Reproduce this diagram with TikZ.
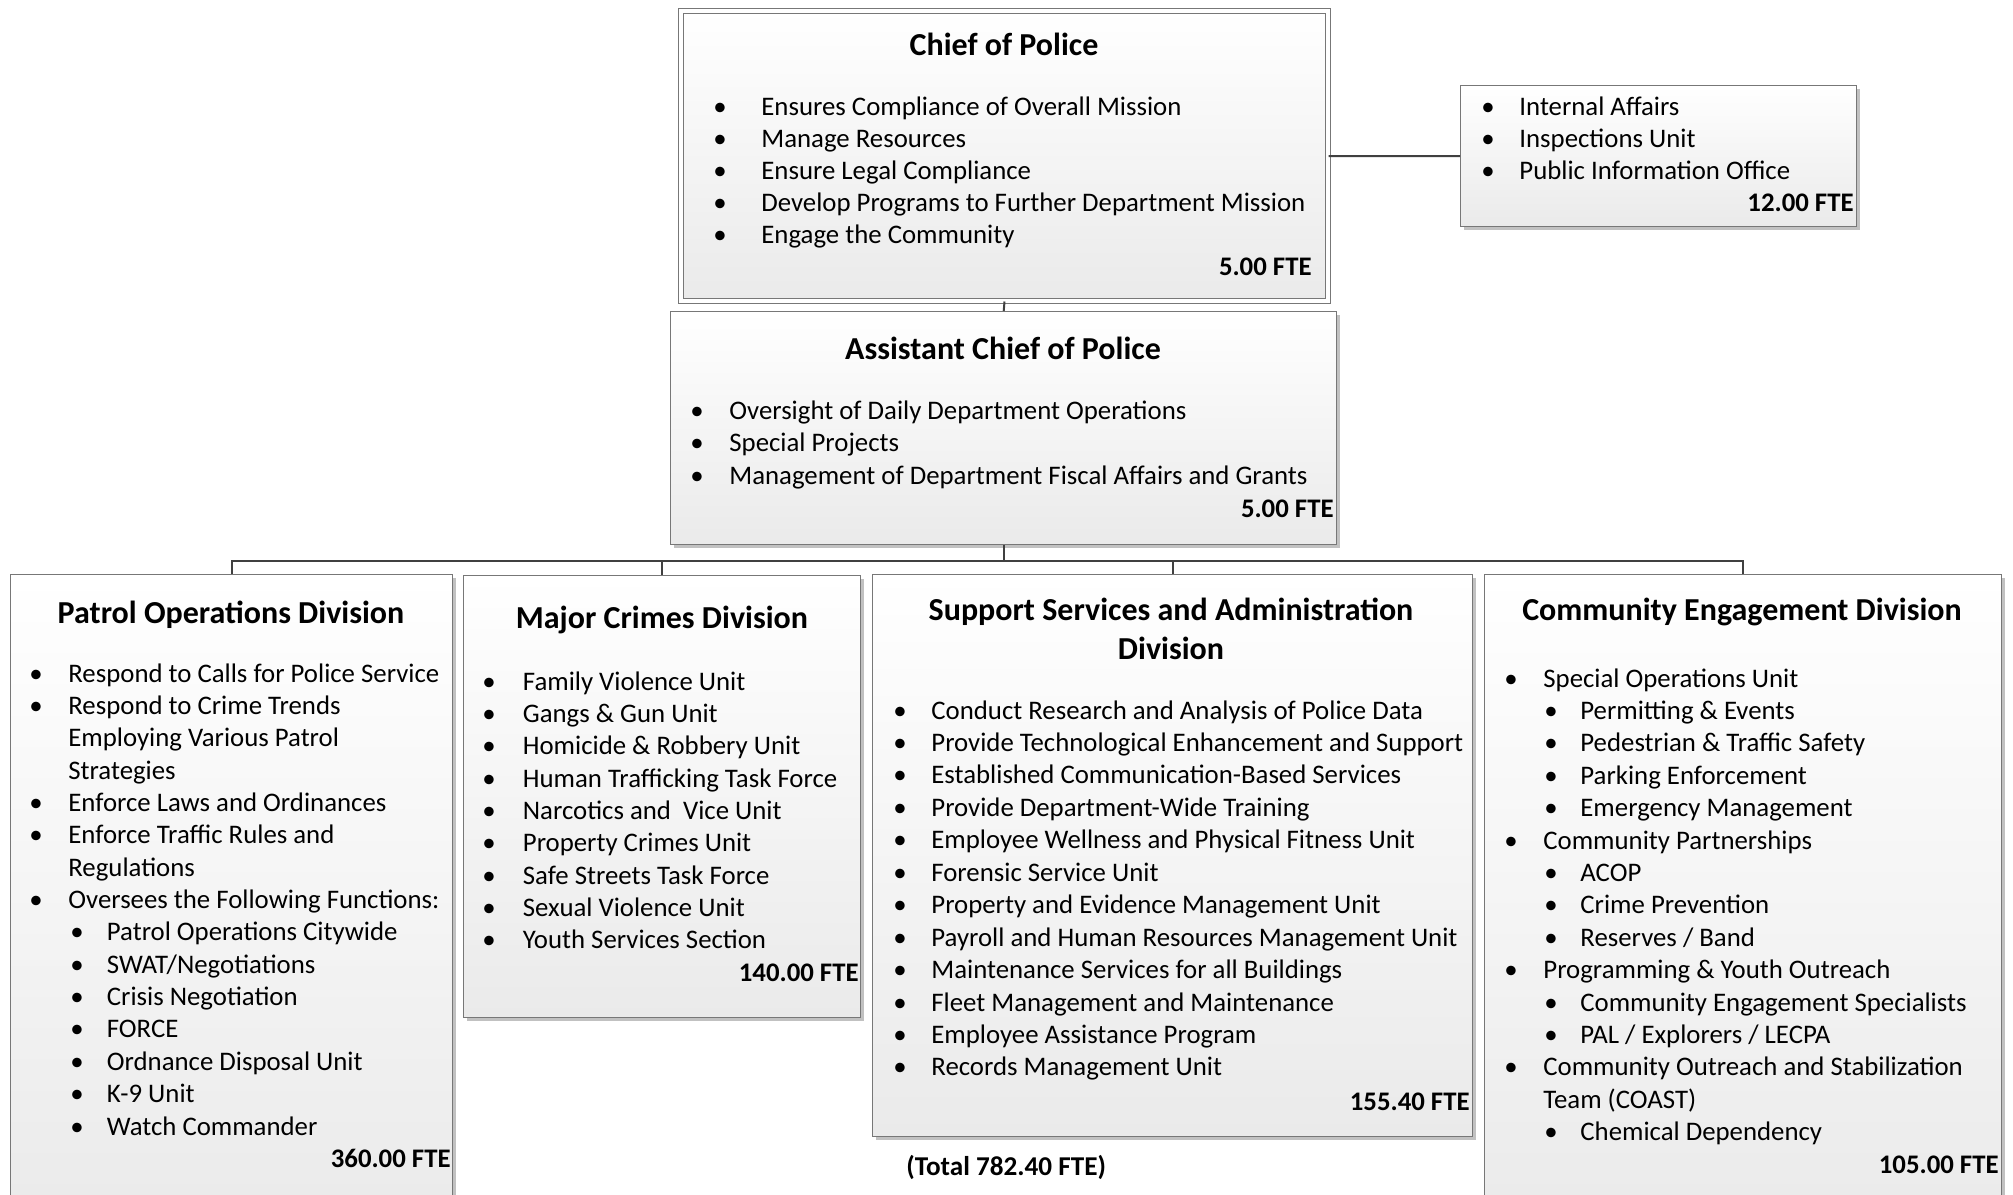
\documentclass[tikz,border=0pt]{standalone}
\usepackage{fontspec}
\setmainfont{Carlito}
\usetikzlibrary{shadows}
\definecolor{boxline}{HTML}{777777}
\definecolor{boxbot}{HTML}{EAEAEA}
\definecolor{conn}{HTML}{404040}
\tikzset{
  itm/.style={anchor=base west, inner sep=0pt, font=\fontsize{13.4}{16}\selectfont},
  bul/.style={anchor=base, inner sep=0pt, font=\fontsize{13.4}{16}\selectfont},
  ttl/.style={anchor=base, inner sep=0pt, font=\bfseries\fontsize{16}{19}\selectfont},
  fte/.style={anchor=base east, inner sep=0pt, font=\bfseries\fontsize{13.4}{16}\selectfont},
  box/.style={draw=boxline, line width=0.7pt, top color=white, bottom color=boxbot,
    inner sep=0pt, anchor=north west,
    drop shadow={shadow xshift=1.4pt, shadow yshift=-1.4pt, fill=black!30, opacity=0.8}},
  link/.style={draw=conn, line width=1pt},
}
\newcommand\entry[5]{%
  \ifx\relax#2\relax\else\node[bul] (#1-b) at (#2,#4) {\textbullet};\fi
  \node[itm] (#1) at (#3,#4) {#5};}
\begin{document}
\begin{tikzpicture}[x=0.5pt,y=-0.5pt]
\useasboundingbox (0,0) rectangle (2013,1194);
\clip (0,0) rectangle (2013,1194);
% boxes
\node[box, double=white, double distance=1.6pt, line width=0.5pt,
  minimum width=323.5pt, minimum height=145pt] (chief) at (680.5,10.5) {};
\node[box, minimum width=198pt, minimum height=70.5pt] (ia) at (1460,85) {};
\node[box, minimum width=333pt, minimum height=116.5pt] (asst) at (670,311) {};
\node[box, minimum width=221pt, minimum height=328pt] (patrol) at (10,574) {};
\node[box, minimum width=198.5pt, minimum height=221pt] (major) at (463,575) {};
\node[box, minimum width=300pt, minimum height=281pt] (support) at (872,574) {};
\node[box, minimum width=258.5pt, minimum height=328pt] (comm) at (1484,574) {};
% connectors
\coordinate (bus) at (1004,561);
\draw[link] (chief.east) -- (ia.west);
\draw[link] (chief.south) -- (asst.north);
\draw[link] (asst.south) -- (asst.south |- bus);
\draw[link] (patrol.north) -- (patrol.north |- bus) -- (comm.north |- bus) -- (comm.north);
\draw[link] (major.north) -- (major.north |- bus);
\draw[link] (support.north) -- (support.north |- bus);
% chief
\node[ttl] (chiefT) at (1004,55) {Chief of Police};
\foreach \txt [count=\i] in {Ensures Compliance of Overall Mission, Manage Resources,
  Ensure Legal Compliance, Develop Programs to Further Department Mission, Engage the Community}{
  \pgfmathsetmacro\yy{115+32*(\i-1)}
  \entry{ch\i}{720}{761}{\yy}{\txt}}
\node[fte] (chiefF) at (1312,275) {5.00 FTE};
% internal affairs
\foreach \txt [count=\i] in {Internal Affairs, Inspections Unit, Public Information Office}{
  \pgfmathsetmacro\yy{115+32*(\i-1)}
  \entry{ia\i}{1488}{1519}{\yy}{\txt}}
\node[fte] (iaF) at (1854,211) {12.00 FTE};
% assistant
\node[ttl] (asstT) at (1003,359) {Assistant Chief of Police};
\foreach \txt [count=\i] in {Oversight of Daily Department Operations, Special Projects,
  Management of Department Fiscal Affairs and Grants}{
  \pgfmathsetmacro\yy{419+32.5*(\i-1)}
  \entry{as\i}{697}{729}{\yy}{\txt}}
\node[fte] (asstF) at (1334,517) {5.00 FTE};
% patrol
\node[ttl] (patT) at (231,623) {Patrol Operations Division};
\foreach \k/\txt [count=\i] in {a/{Respond to Calls for Police Service}, a/{Respond to Crime Trends},
  c/{Employing Various Patrol}, c/{Strategies}, a/{Enforce Laws and Ordinances},
  a/{Enforce Traffic Rules and}, c/{Regulations}, a/{Oversees the Following Functions:},
  b/{Patrol Operations Citywide}, b/{SWAT/Negotiations}, b/{Crisis Negotiation}, b/{FORCE},
  b/{Ordnance Disposal Unit}, b/{K-9 Unit}, b/{Watch Commander}}{
  \pgfmathsetmacro\yy{682+32.36*(\i-1)}
  \if a\k \entry{pa\i}{36}{68}{\yy}{\txt}\fi
  \if b\k \entry{pa\i}{77}{106.5}{\yy}{\txt}\fi
  \if c\k \entry{pa\i}{}{68}{\yy}{\txt}\fi}
\node[fte] (patF) at (451,1167) {360.00 FTE};
% major crimes
\node[ttl] (majT) at (662,628) {Major Crimes Division};
\foreach \txt [count=\i] in {Family Violence Unit, Gangs \& Gun Unit, Homicide \& Robbery Unit,
  Human Trafficking Task Force, {Narcotics and\ \ Vice Unit}, Property Crimes Unit,
  Safe Streets Task Force, Sexual Violence Unit, Youth Services Section}{
  \pgfmathsetmacro\yy{690+32.36*(\i-1)}
  \entry{mj\i}{489}{522.5}{\yy}{\txt}}
\node[fte] (majF) at (859,981) {140.00 FTE};
% support
\node[ttl] (supT) at (1171,620) {Support Services and Administration};
\node[ttl] (supT2) at (1171,659) {Division};
\foreach \txt [count=\i] in {Conduct Research and Analysis of Police Data,
  Provide Technological Enhancement and Support, Established Communication-Based Services,
  Provide Department-Wide Training, Employee Wellness and Physical Fitness Unit,
  Forensic Service Unit, Property and Evidence Management Unit,
  Payroll and Human Resources Management Unit, Maintenance Services for all Buildings,
  Fleet Management and Maintenance, Employee Assistance Program, Records Management Unit}{
  \pgfmathsetmacro\yy{719+32.45*(\i-1)}
  \entry{sp\i}{900}{931}{\yy}{\txt}}
\node[fte] (supF) at (1470,1110) {155.40 FTE};
\node[anchor=base west, inner sep=0pt, font=\bfseries\fontsize{13.6}{16}\selectfont] (total) at (906,1175) {(Total 782.40 FTE)};
% community
\node[ttl] (comT) at (1742,620) {Community Engagement Division};
\foreach \k/\txt [count=\i] in {a/{Special Operations Unit}, b/{Permitting \& Events},
  b/{Pedestrian \& Traffic Safety}, b/{Parking Enforcement}, b/{Emergency Management},
  a/{Community Partnerships}, b/{ACOP}, b/{Crime Prevention}, b/{Reserves / Band},
  a/{Programming \& Youth Outreach}, b/{Community Engagement Specialists},
  b/{PAL / Explorers / LECPA}, a/{Community Outreach and Stabilization}, c/{Team (COAST)},
  b/{Chemical Dependency}}{
  \pgfmathsetmacro\yy{687+32.4*(\i-1)}
  \if a\k \entry{cm\i}{1511}{1543}{\yy}{\txt}\fi
  \if b\k \entry{cm\i}{1551}{1580}{\yy}{\txt}\fi
  \if c\k \entry{cm\i}{}{1543}{\yy}{\txt}\fi}
\node[fte] (comF) at (1999,1173) {105.00 FTE};
\end{tikzpicture}
\end{document}
